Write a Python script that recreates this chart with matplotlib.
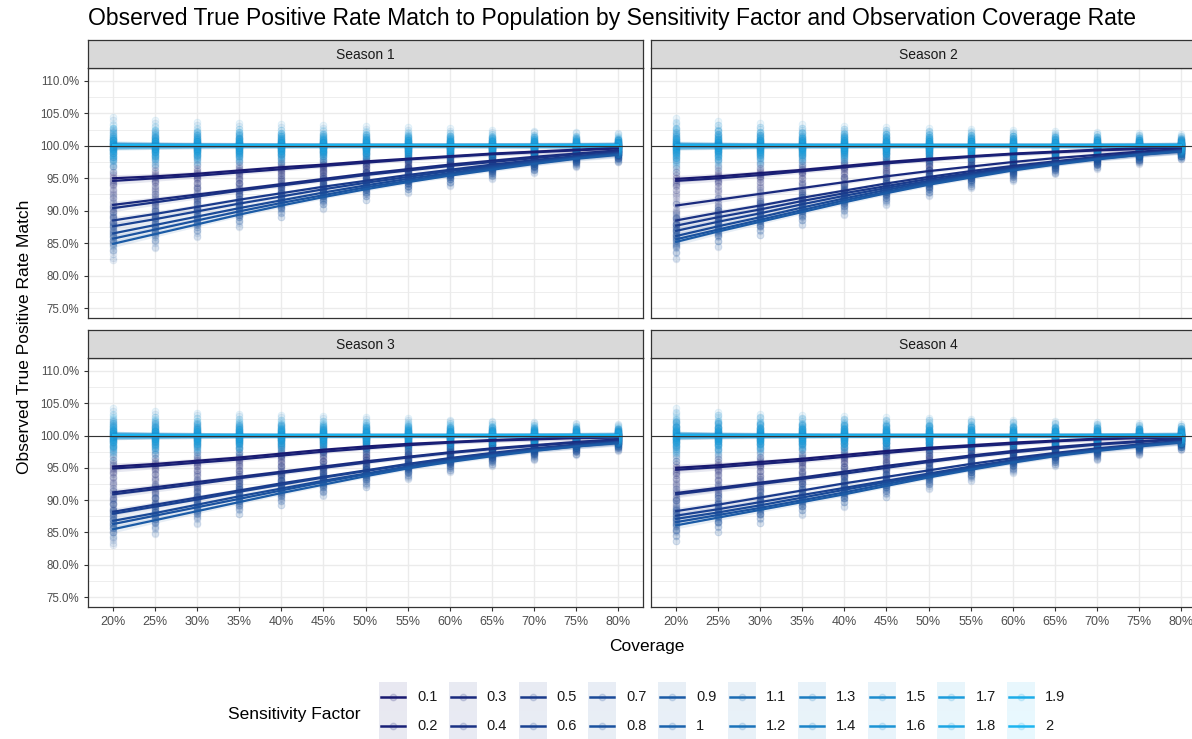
import numpy as np
import matplotlib
matplotlib.use("Agg")
import matplotlib.pyplot as plt
from matplotlib.colors import to_rgb
from matplotlib.patches import Rectangle

plt.rcParams['font.family'] = ['Liberation Sans', 'DejaVu Sans']

# ---- data ----
coverage = [20, 25, 30, 35, 40, 45, 50, 55, 60, 65, 70, 75, 80]
factors = ['0.1', '0.2', '0.3', '0.4', '0.5', '0.6', '0.7', '0.8', '0.9', '1',
           '1.1', '1.2', '1.3', '1.4', '1.5', '1.6', '1.7', '1.8', '1.9', '2']
seasons = ['Season 1', 'Season 2', 'Season 3', 'Season 4']

# mean match (%) for factors 0.1 .. 0.9, one row per factor
season1_low = [
    [95.0, 95.3, 95.7, 96.2, 96.7, 97.1, 97.6, 98.0, 98.4, 98.8, 99.1, 99.4, 99.7],
    [94.6, 95.0, 95.4, 95.9, 96.4, 96.9, 97.4, 97.9, 98.3, 98.7, 99.0, 99.3, 99.6],
    [90.9, 91.7, 92.5, 93.3, 94.1, 94.9, 95.7, 96.4, 97.1, 97.7, 98.3, 98.8, 99.3],
    [90.4, 91.3, 92.2, 93.1, 93.9, 94.7, 95.5, 96.2, 96.9, 97.5, 98.1, 98.7, 99.2],
    [88.5, 89.5, 90.6, 91.7, 92.7, 93.7, 94.6, 95.5, 96.3, 97.1, 97.8, 98.4, 99.0],
    [87.6, 88.7, 89.9, 91.1, 92.2, 93.3, 94.3, 95.2, 96.1, 96.9, 97.6, 98.3, 98.9],
    [86.5, 87.8, 89.1, 90.4, 91.6, 92.8, 93.9, 94.9, 95.8, 96.7, 97.5, 98.2, 98.8],
    [85.7, 87.1, 88.5, 89.9, 91.2, 92.4, 93.6, 94.6, 95.6, 96.5, 97.3, 98.1, 98.7],
    [84.9, 86.4, 87.9, 89.4, 90.8, 92.1, 93.3, 94.4, 95.4, 96.3, 97.2, 98.0, 98.6],
]
season2_low = [
    [94.9, 95.3, 95.8, 96.3, 96.9, 97.5, 98.0, 98.4, 98.8, 99.1, 99.4, 99.6, 99.8],
    [94.6, 95.0, 95.5, 96.1, 96.7, 97.3, 97.8, 98.3, 98.7, 99.0, 99.3, 99.5, 99.7],
    [90.8, 91.7, 92.6, 93.5, 94.4, 95.3, 96.1, 96.8, 97.5, 98.1, 98.6, 99.1, 99.5],
    [88.5, 89.7, 90.8, 92.0, 93.1, 94.2, 95.2, 96.1, 96.9, 97.6, 98.3, 98.9, 99.4],
    [87.7, 89.0, 90.2, 91.5, 92.7, 93.8, 94.9, 95.8, 96.7, 97.5, 98.2, 98.8, 99.3],
    [86.9, 88.3, 89.6, 91.0, 92.3, 93.5, 94.6, 95.6, 96.5, 97.4, 98.1, 98.7, 99.3],
    [86.1, 87.6, 89.0, 90.5, 91.9, 93.2, 94.4, 95.4, 96.4, 97.3, 98.0, 98.7, 99.2],
    [85.6, 87.1, 88.6, 90.1, 91.6, 92.9, 94.2, 95.3, 96.3, 97.2, 98.0, 98.6, 99.2],
    [85.2, 86.8, 88.3, 89.8, 91.3, 92.7, 94.0, 95.1, 96.2, 97.1, 97.9, 98.6, 99.1],
]
season3_low = [
    [95.2, 95.6, 96.1, 96.6, 97.2, 97.8, 98.3, 98.7, 99.0, 99.3, 99.5, 99.7, 99.8],
    [94.9, 95.3, 95.8, 96.3, 96.9, 97.5, 98.0, 98.5, 98.9, 99.2, 99.4, 99.6, 99.7],
    [91.2, 92.0, 92.8, 93.6, 94.4, 95.2, 96.0, 96.7, 97.4, 98.0, 98.5, 99.0, 99.4],
    [90.9, 91.7, 92.5, 93.4, 94.2, 95.0, 95.8, 96.6, 97.3, 97.9, 98.4, 98.9, 99.3],
    [88.2, 89.3, 90.4, 91.5, 92.6, 93.6, 94.6, 95.6, 96.5, 97.3, 98.0, 98.6, 99.1],
    [87.9, 89.0, 90.1, 91.3, 92.4, 93.5, 94.5, 95.5, 96.4, 97.2, 97.9, 98.5, 99.0],
    [86.8, 88.0, 89.3, 90.6, 91.8, 93.0, 94.1, 95.2, 96.2, 97.0, 97.8, 98.4, 99.0],
    [86.3, 87.6, 88.9, 90.2, 91.5, 92.8, 94.0, 95.1, 96.1, 96.9, 97.7, 98.3, 98.9],
    [85.5, 86.9, 88.3, 89.7, 91.1, 92.4, 93.7, 94.9, 95.9, 96.8, 97.6, 98.3, 98.8],
]
season4_low = [
    [95.0, 95.4, 95.9, 96.4, 97.0, 97.6, 98.1, 98.5, 98.9, 99.2, 99.5, 99.7, 99.8],
    [94.7, 95.1, 95.6, 96.1, 96.7, 97.3, 97.9, 98.3, 98.7, 99.1, 99.4, 99.6, 99.7],
    [91.1, 91.9, 92.7, 93.5, 94.4, 95.3, 96.1, 96.9, 97.6, 98.2, 98.7, 99.1, 99.5],
    [90.9, 91.7, 92.5, 93.3, 94.1, 95.0, 95.9, 96.7, 97.4, 98.0, 98.6, 99.0, 99.4],
    [88.3, 89.3, 90.4, 91.5, 92.6, 93.6, 94.6, 95.6, 96.5, 97.3, 98.0, 98.6, 99.2],
    [87.6, 88.6, 89.7, 90.8, 91.9, 93.0, 94.1, 95.2, 96.2, 97.1, 97.9, 98.5, 99.1],
    [87.1, 88.1, 89.2, 90.4, 91.6, 92.8, 93.9, 95.0, 96.0, 97.0, 97.8, 98.5, 99.0],
    [86.6, 87.7, 88.8, 90.0, 91.2, 92.5, 93.7, 94.8, 95.9, 96.9, 97.7, 98.4, 99.0],
    [86.1, 87.3, 88.5, 89.7, 90.9, 92.2, 93.5, 94.7, 95.8, 96.8, 97.6, 98.3, 98.9],
]
# factors 1 .. 2 sit flat around 100%
season1_high = [100.1, 100.0, 100.2, 99.9, 100.1, 100.0, 100.2, 100.1, 99.9, 100.0, 100.1]
season2_high = [100.0, 100.1, 99.9, 100.1, 100.0, 100.2, 100.0, 100.1, 99.9, 100.1, 100.0]
season3_high = [100.0, 99.9, 100.1, 100.0, 100.1, 99.9, 100.0, 100.1, 100.0, 99.9, 100.1]
season4_high = [100.1, 100.0, 99.9, 100.0, 100.1, 100.0, 99.9, 100.1, 100.0, 100.1, 100.0]

# replicate scatter around each mean, its width by coverage and by factor
replicate_offsets = [-2.0, -1.3, -0.8, -0.45, -0.15, 0.15, 0.45, 0.8, 1.3, 2.2]
spread_by_cov = [1.3, 1.15, 1.05, 1.0, 0.95, 0.9, 0.85, 0.8, 0.75, 0.7, 0.65, 0.6, 0.55]
spread_by_factor = [1.0, 0.8, 1.1, 0.9, 1.2, 0.85, 1.0, 1.15, 0.95, 0.7,
                    0.9, 1.3, 0.6, 1.1, 0.8, 1.5, 0.7, 1.0, 1.2, 0.9]
ribbon_by_cov = [0.55, 0.45, 0.38, 0.33, 0.3, 0.28, 0.27, 0.27, 0.28, 0.3, 0.33, 0.38, 0.45]

season_low = [season1_low, season2_low, season3_low, season4_low]
season_high = [season1_high, season2_high, season3_high, season4_high]

# colour ramp midnightblue -> light sky blue
c_lo = np.array(to_rgb('#191970'))
c_hi = np.array(to_rgb('#1db5f0'))
colors = [tuple(c_lo + (c_hi - c_lo) * i / (len(factors) - 1)) for i in range(len(factors))]

W, H = 1192, 739
fig = plt.figure(figsize=(W / 100, H / 100), dpi=100)


def fx(px):
    return px / W


def fy(py):
    return 1 - py / H


panel_x = [(88, 643), (651, 1206)]
panel_y = [(68, 318), (358, 607)]
strip_h = 28
cov = np.array(coverage, dtype=float)
spread = np.array(spread_by_cov)
rib = np.array(ribbon_by_cov)

for s, name in enumerate(seasons):
    r, c = divmod(s, 2)
    x0, x1 = panel_x[c]
    y0, y1 = panel_y[r]
    ax = fig.add_axes([fx(x0), fy(y1), fx(x1 - x0), (y1 - y0) / H])
    sax = fig.add_axes([fx(x0), fy(y0), fx(x1 - x0), strip_h / H])
    sax.set_facecolor('#d9d9d9')
    sax.set_xticks([])
    sax.set_yticks([])
    for sp in sax.spines.values():
        sp.set_color('#333333')
        sp.set_linewidth(0.9)
    sax.text(0.5, 0.45, name, ha='center', va='center', fontsize=10, color='#1a1a1a',
             transform=sax.transAxes)

    means = [np.array(m) for m in season_low[s]] + \
            [np.full(len(coverage), v) for v in season_high[s]]

    # points
    for k, m in enumerate(means):
        for off in replicate_offsets:
            ax.scatter(cov, m + off * spread * spread_by_factor[k], s=24, color=colors[k],
                       alpha=0.09, linewidths=0.6, zorder=2)
    # smooth ribbons + lines
    for k, m in enumerate(means):
        ax.fill_between(cov, m - rib, m + rib, color=colors[k], alpha=0.1, lw=0, zorder=3)
        ax.plot(cov, m, color=colors[k], lw=1.6, zorder=4)

    ax.axhline(100, color='#333333', lw=0.8, zorder=5)

    ax.set_xlim(17, 83)
    ax.set_ylim(73.46, 112.0)
    ax.set_xticks(coverage)
    ax.set_yticks(np.arange(75, 111, 5))
    ax.set_yticks(np.arange(77.5, 111, 5), minor=True)
    ax.grid(which='major', color='#ebebeb', lw=1.0, zorder=0)
    ax.grid(which='minor', axis='y', color='#ebebeb', lw=0.6, zorder=0)
    ax.set_axisbelow(True)
    for sp in ax.spines.values():
        sp.set_color('#333333')
        sp.set_linewidth(0.9)
    ax.tick_params(which='major', length=3, color='#333333', width=0.8)
    ax.tick_params(which='minor', length=0)
    if r == 1:
        ax.set_xticklabels(['%d%%' % v for v in coverage], fontsize=9, color='#4d4d4d')
    else:
        ax.set_xticklabels([])
        ax.tick_params(axis='x', length=0)
    if c == 0:
        ax.set_yticklabels(['%.1f%%' % v for v in np.arange(75, 111, 5)], fontsize=8.3,
                           color='#4d4d4d')
    else:
        ax.set_yticklabels([])
        ax.tick_params(axis='y', length=0)

fig.text(fx(88), fy(19), 'Observed True Positive Rate Match to Population by Sensitivity Factor '
         'and Observation Coverage Rate', fontsize=16.5, ha='left', va='center', color='black')
fig.text(fx(647), fy(646), 'Coverage', fontsize=12.5, ha='center', va='center')
fig.text(fx(25), fy(337), 'Observed True Positive Rate Match', fontsize=12.5, rotation=90,
         ha='center', va='center')

# legend drawn in pixel space
lax = fig.add_axes([0, 0, 1, 1], zorder=-1)
lax.set_xlim(0, W)
lax.set_ylim(H, 0)
lax.axis('off')
lax.text(228, 714, 'Sensitivity Factor', fontsize=12.5, ha='left', va='center')
for k, lab in enumerate(factors):
    col, row = divmod(k, 2)
    kx = 379 + col * 69.8
    ky = 682 + row * 29
    bg = tuple(1 - 0.1 * (1 - np.array(colors[k])))
    lax.add_patch(Rectangle((kx, ky), 28, 29, facecolor=bg, edgecolor='none'))
    lax.plot([kx + 2, kx + 26], [ky + 14.5, ky + 14.5], color=colors[k], lw=1.8)
    lax.scatter([kx + 14], [ky + 14.5], s=22, color=colors[k], alpha=0.15, zorder=3)
    lax.text(kx + 38, ky + 15, lab, fontsize=10.5, ha='left', va='center', color='#1a1a1a')

fig.savefig('out.png', dpi=100)
